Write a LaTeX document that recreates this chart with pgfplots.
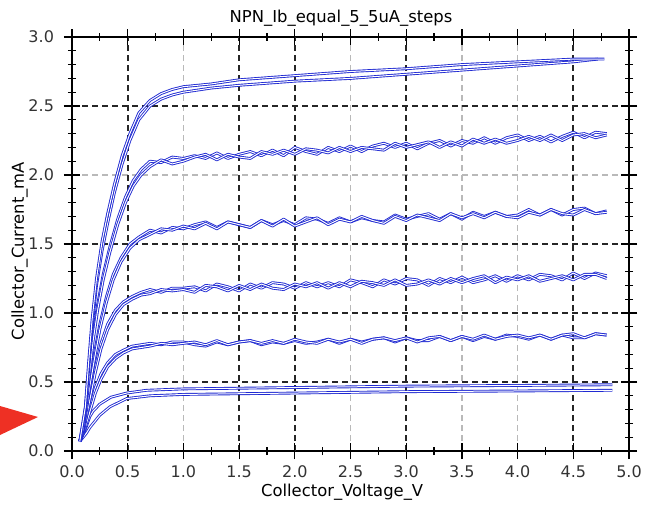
\documentclass[border=0pt]{standalone}
\usepackage{fontspec}
\setmainfont{DejaVu Sans}
\usepackage{pgfplots}
\pgfplotsset{compat=1.18}
\definecolor{trace}{RGB}{32,42,210}
\definecolor{arrowred}{RGB}{238,48,36}
\newcommand{\lblfont}{\fontsize{8.2}{10}\selectfont}
\begin{document}
\begin{tikzpicture}
\begin{axis}[
  scale only axis, width=278.5pt, height=207pt,
  xmin=0, xmax=5, ymin=0, ymax=3,
  xtick={0,0.5,1,1.5,2,2.5,3,3.5,4,4.5,5},
  ytick={0,0.5,1,1.5,2,2.5,3},
  minor x tick num=1, minor y tick num=4,
  tick align=center, major tick length=8pt, minor tick length=4pt,
  every tick/.style={black, line width=0.6pt},
  axis line style={line width=0.8pt},
  grid=major,
  major grid style={gray!55, line width=0.85pt, dash pattern=on 3pt off 2pt},
  extra x ticks={0.5,1.5,2,3,4.5}, extra x tick labels={,,,,},
  extra y ticks={0.5,1,1.5,2.5}, extra y tick labels={,,,},
  extra tick style={major grid style={black!85, line width=0.85pt, dash pattern=on 3pt off 2pt}},
  /pgf/number format/.cd, fixed, fixed zerofill, precision=1, assume math mode=true,
  /pgfplots/.cd,
  yticklabel style={xshift=-1.5pt},
  tick label style={font=\fontsize{8}{9.6}\selectfont, text=black!80},
  title={NPN\_Ib\_equal\_5\_5uA\_steps},
  every axis title shift=0pt,
  title style={font=\lblfont, at={(axis description cs:0.483,1.034)}, anchor=base},
  xlabel={Collector\_Voltage\_V},
  xlabel style={font=\lblfont, at={(axis description cs:0.485,-0.111)}, anchor=base},
  ylabel={Collector\_Current\_mA},
  ylabel style={font=\lblfont, at={(axis description cs:-0.0862,0.483)}, anchor=base},
  cycle list={{trace, no markers}},
  every axis plot post/.append style={draw=trace, mark=none, line width=0.45pt, double=white, double distance=0.5pt, line join=round},
]
% Ib step 1
\addplot coordinates {(0.07,0.07)(0.10,0.12)(0.13,0.18)(0.16,0.25)(0.19,0.29)(0.25,0.34)(0.35,0.39)(0.49,0.42)(0.67,0.44)(1.0,0.45)(2,0.46)(3,0.47)(4,0.475)(4.85,0.48)};
\addplot coordinates {(0.07,0.07)(0.10,0.10)(0.13,0.13)(0.16,0.17)(0.25,0.26)(0.34,0.32)(0.49,0.38)(0.7,0.40)(1.0,0.41)(2,0.42)(3,0.43)(4,0.435)(4.85,0.44)};
% Ib step 2
\addplot coordinates {(0.07,0.07)(0.10,0.13)(0.13,0.22)(0.17,0.34)(0.21,0.46)(0.26,0.56)(0.32,0.64)(0.39,0.70)(0.46,0.73)(0.54,0.76)(0.62,0.77)(0.7,0.78)(0.8,0.77)(0.9,0.79)
 (1.0,0.79)(1.1,0.77)(1.2,0.76)(1.3,0.79)(1.4,0.77)(1.5,0.79)(1.6,0.80)(1.7,0.77)(1.8,0.79)(1.9,0.78)(2.0,0.80)(2.1,0.78)(2.2,0.79)(2.3,0.81)(2.4,0.78)(2.5,0.81)(2.6,0.79)(2.7,0.81)(2.8,0.82)(2.9,0.79)(3.0,0.82)(3.1,0.80)(3.2,0.80)(3.3,0.83)(3.4,0.80)(3.5,0.83)(3.6,0.80)(3.7,0.83)(3.8,0.81)(3.9,0.84)(4.0,0.83)(4.1,0.81)(4.2,0.84)(4.3,0.81)(4.4,0.84)(4.5,0.82)(4.6,0.82)(4.7,0.85)(4.8,0.84)};
\addplot coordinates {(0.07,0.07)(0.10,0.12)(0.13,0.20)(0.17,0.31)(0.21,0.42)(0.26,0.52)(0.32,0.61)(0.39,0.67)(0.46,0.71)(0.54,0.74)(0.62,0.75)(0.7,0.76)(0.8,0.78)(0.9,0.77)
 (1.0,0.78)(1.1,0.79)(1.2,0.77)(1.3,0.80)(1.4,0.77)(1.5,0.79)(1.6,0.80)(1.7,0.78)(1.8,0.80)(1.9,0.78)(2.0,0.81)(2.1,0.79)(2.2,0.78)(2.3,0.81)(2.4,0.79)(2.5,0.81)(2.6,0.78)(2.7,0.81)(2.8,0.82)(2.9,0.80)(3.0,0.82)(3.1,0.79)(3.2,0.82)(3.3,0.83)(3.4,0.80)(3.5,0.83)(3.6,0.81)(3.7,0.84)(3.8,0.81)(3.9,0.83)(4.0,0.84)(4.1,0.82)(4.2,0.84)(4.3,0.81)(4.4,0.84)(4.5,0.85)(4.6,0.82)(4.7,0.85)(4.8,0.84)};
% Ib step 3
\addplot coordinates {(0.07,0.07)(0.10,0.14)(0.13,0.27)(0.17,0.44)(0.21,0.61)(0.26,0.78)(0.32,0.92)(0.39,1.02)(0.46,1.08)(0.54,1.12)(0.62,1.15)(0.7,1.17)(0.8,1.15)(0.9,1.18)
 (1.0,1.18)(1.1,1.19)(1.2,1.16)(1.3,1.21)(1.4,1.19)(1.5,1.16)(1.6,1.21)(1.7,1.18)(1.8,1.22)(1.9,1.21)(2.0,1.18)(2.1,1.22)(2.2,1.19)(2.3,1.22)(2.4,1.19)(2.5,1.24)(2.6,1.22)(2.7,1.19)(2.8,1.24)(2.9,1.21)(3.0,1.25)(3.1,1.24)(3.2,1.20)(3.3,1.25)(3.4,1.22)(3.5,1.26)(3.6,1.22)(3.7,1.24)(3.8,1.27)(3.9,1.23)(4.0,1.27)(4.1,1.24)(4.2,1.28)(4.3,1.27)(4.4,1.24)(4.5,1.29)(4.6,1.25)(4.7,1.29)(4.8,1.27)};
\addplot coordinates {(0.07,0.07)(0.10,0.13)(0.13,0.25)(0.17,0.41)(0.21,0.57)(0.26,0.74)(0.32,0.88)(0.39,0.99)(0.46,1.06)(0.54,1.10)(0.62,1.13)(0.7,1.14)(0.8,1.17)(0.9,1.16)
 (1.0,1.17)(1.1,1.15)(1.2,1.20)(1.3,1.19)(1.4,1.16)(1.5,1.20)(1.6,1.17)(1.7,1.21)(1.8,1.18)(1.9,1.17)(2.0,1.21)(2.1,1.19)(2.2,1.22)(2.3,1.18)(2.4,1.22)(2.5,1.19)(2.6,1.23)(2.7,1.22)(2.8,1.20)(2.9,1.24)(3.0,1.20)(3.1,1.21)(3.2,1.24)(3.3,1.21)(3.4,1.25)(3.5,1.22)(3.6,1.25)(3.7,1.27)(3.8,1.22)(3.9,1.26)(4.0,1.24)(4.1,1.27)(4.2,1.23)(4.3,1.25)(4.4,1.27)(4.5,1.24)(4.6,1.28)(4.7,1.28)(4.8,1.25)};
% Ib step 4
\addplot coordinates {(0.07,0.07)(0.10,0.16)(0.13,0.32)(0.16,0.50)(0.20,0.70)(0.25,0.92)(0.31,1.12)(0.37,1.28)(0.44,1.40)(0.52,1.50)(0.6,1.55)(0.7,1.60)(0.8,1.58)(0.9,1.62)
 (1.0,1.61)(1.1,1.64)(1.2,1.66)(1.3,1.62)(1.4,1.66)(1.5,1.64)(1.6,1.62)(1.7,1.67)(1.8,1.64)(1.9,1.67)(2.0,1.64)(2.1,1.69)(2.2,1.68)(2.3,1.65)(2.4,1.69)(2.5,1.66)(2.6,1.69)(2.7,1.67)(2.8,1.66)(2.9,1.71)(3.0,1.68)(3.1,1.70)(3.2,1.72)(3.3,1.68)(3.4,1.72)(3.5,1.68)(3.6,1.73)(3.7,1.70)(3.8,1.73)(3.9,1.70)(4.0,1.71)(4.1,1.75)(4.2,1.71)(4.3,1.75)(4.4,1.71)(4.5,1.75)(4.6,1.76)(4.7,1.72)(4.8,1.74)};
\addplot coordinates {(0.07,0.07)(0.10,0.15)(0.13,0.30)(0.16,0.47)(0.20,0.66)(0.25,0.88)(0.31,1.08)(0.37,1.24)(0.44,1.37)(0.52,1.47)(0.6,1.53)(0.7,1.57)(0.8,1.61)(0.9,1.60)
 (1.0,1.63)(1.1,1.61)(1.2,1.65)(1.3,1.61)(1.4,1.66)(1.5,1.64)(1.6,1.62)(1.7,1.67)(1.8,1.63)(1.9,1.68)(2.0,1.63)(2.1,1.66)(2.2,1.69)(2.3,1.64)(2.4,1.68)(2.5,1.66)(2.6,1.70)(2.7,1.67)(2.8,1.65)(2.9,1.70)(3.0,1.67)(3.1,1.71)(3.2,1.69)(3.3,1.67)(3.4,1.72)(3.5,1.69)(3.6,1.72)(3.7,1.69)(3.8,1.73)(3.9,1.70)(4.0,1.69)(4.1,1.73)(4.2,1.71)(4.3,1.75)(4.4,1.72)(4.5,1.71)(4.6,1.75)(4.7,1.72)(4.8,1.73)};
% Ib step 5
\addplot coordinates {(0.07,0.07)(0.10,0.18)(0.13,0.38)(0.16,0.62)(0.19,0.84)(0.23,1.06)(0.28,1.28)(0.34,1.48)(0.41,1.68)(0.48,1.84)(0.55,1.96)(0.62,2.04)(0.7,2.10)(0.8,2.09)(0.9,2.13)
 (1.0,2.12)(1.1,2.14)(1.2,2.12)(1.3,2.16)(1.4,2.12)(1.5,2.15)(1.6,2.17)(1.7,2.14)(1.8,2.18)(1.9,2.14)(2.0,2.20)(2.1,2.17)(2.2,2.15)(2.3,2.20)(2.4,2.17)(2.5,2.21)(2.6,2.17)(2.7,2.21)(2.8,2.23)(2.9,2.20)(3.0,2.23)(3.1,2.19)(3.2,2.23)(3.3,2.25)(3.4,2.21)(3.5,2.25)(3.6,2.23)(3.7,2.27)(3.8,2.23)(3.9,2.27)(4.0,2.29)(4.1,2.25)(4.2,2.28)(4.3,2.24)(4.4,2.28)(4.5,2.31)(4.6,2.27)(4.7,2.31)(4.8,2.30)};
\addplot coordinates {(0.07,0.07)(0.10,0.16)(0.13,0.35)(0.16,0.58)(0.19,0.80)(0.23,1.02)(0.28,1.24)(0.34,1.44)(0.41,1.64)(0.48,1.80)(0.55,1.92)(0.62,2.00)(0.7,2.06)(0.8,2.11)(0.9,2.08)
 (1.0,2.10)(1.1,2.13)(1.2,2.15)(1.3,2.11)(1.4,2.15)(1.5,2.13)(1.6,2.12)(1.7,2.17)(1.8,2.15)(1.9,2.18)(2.0,2.15)(2.1,2.19)(2.2,2.18)(2.3,2.16)(2.4,2.20)(2.5,2.17)(2.6,2.20)(2.7,2.19)(2.8,2.18)(2.9,2.23)(3.0,2.20)(3.1,2.22)(3.2,2.24)(3.3,2.20)(3.4,2.24)(3.5,2.21)(3.6,2.26)(3.7,2.23)(3.8,2.26)(3.9,2.23)(4.0,2.25)(4.1,2.28)(4.2,2.25)(4.3,2.29)(4.4,2.25)(4.5,2.29)(4.6,2.30)(4.7,2.27)(4.8,2.29)};
% Ib step 6
\addplot coordinates {(0.07,0.07)(0.12,0.30)(0.15,0.60)(0.18,0.90)(0.22,1.20)(0.27,1.45)(0.32,1.65)(0.38,1.87)(0.45,2.08)(0.52,2.25)(0.6,2.40)(0.7,2.50)(0.8,2.55)(0.9,2.58)(1.0,2.60)(1.25,2.63)(1.5,2.65)(2.0,2.68)(2.5,2.70)(3.0,2.73)(3.5,2.76)(4.0,2.79)(4.5,2.82)(4.72,2.84)};
\addplot coordinates {(0.07,0.07)(0.12,0.32)(0.15,0.65)(0.18,0.95)(0.22,1.25)(0.27,1.52)(0.32,1.72)(0.38,1.93)(0.45,2.14)(0.52,2.30)(0.6,2.45)(0.7,2.54)(0.8,2.59)(0.9,2.62)(1.0,2.64)(1.25,2.66)(1.5,2.69)(2.0,2.72)(2.5,2.75)(3.0,2.77)(3.5,2.80)(4.0,2.82)(4.5,2.84)(4.78,2.84)};
\coordinate (bl) at (rel axis cs:0,0);
\coordinate (tr) at (rel axis cs:1,1);
\end{axis}
\fill[arrowred] ([xshift=-36pt,yshift=22.5pt]bl) -- ([xshift=-17pt,yshift=17pt]bl) -- ([xshift=-36pt,yshift=8pt]bl) -- cycle;
\pgfresetboundingbox
\path[use as bounding box] ([xshift=-36pt,yshift=-28.5pt]bl) rectangle ([xshift=8pt,yshift=18.5pt]tr);
\end{tikzpicture}
\end{document}
